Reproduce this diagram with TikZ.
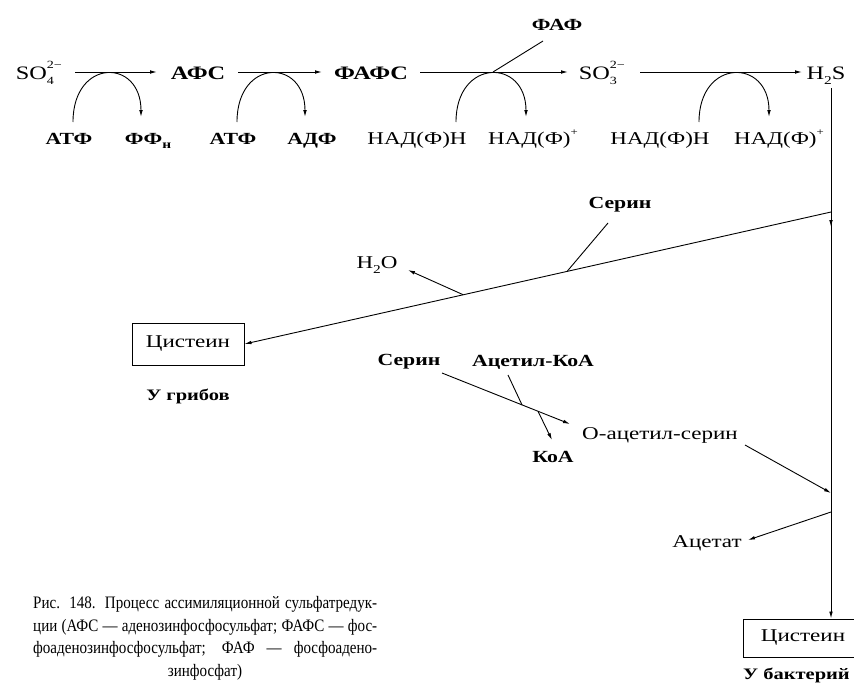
\documentclass[tikz,border=0pt]{standalone}
\usepackage{fontspec}
\setmainfont{Liberation Serif}
\newfontfamily\wide{Liberation Serif}[FakeStretch=1.28]
\newfontfamily\narrowf{Liberation Serif}[FakeStretch=0.86]
\usetikzlibrary{arrows.meta,calc}
\newcommand{\chsc}[2]{\rlap{\raisebox{0.55em}{\fontsize{11}{11}\selectfont #1}}\raisebox{-0.28em}{\fontsize{11}{11}\selectfont #2}}
\newcommand{\lowi}[1]{\raisebox{-0.28em}{\fontsize{12}{12}\selectfont #1}}
\newcommand{\upi}[1]{\raisebox{0.5em}{\fontsize{10}{10}\selectfont #1}}
\begin{document}
\begin{tikzpicture}[x=1pt,y=-1pt,
  arr/.style={-{Latex[length=7pt,width=3.6pt]}},
  ln/.style={line width=0.9pt},
  toprow/.style={inner sep=0pt,text height=16pt,text depth=2pt,font=\fontsize{19}{22}\selectfont\wide},
  lab/.style={inner sep=0pt,text height=14pt,text depth=4pt,font=\fontsize{18}{22}\selectfont\wide},
  txt/.style={inner sep=0pt,font=\fontsize{18}{22}\selectfont\wide},
  bx/.style={draw,line width=1pt,inner sep=0pt,minimum height=42pt,font=\fontsize{18}{22}\selectfont\wide},
  captxt/.style={inner sep=0pt,anchor=base west,font=\fontsize{17.5}{20}\selectfont\narrowf}
]
\useasboundingbox (0,0) rectangle (854,691);
\clip (0,0) rectangle (854,691);
\fill[white] (0,0) rectangle (854,691);

% top row
\node[toprow] (so4) at (41,72) {SO\chsc{2−}{4}\hphantom{4}};
\node[toprow,font=\fontsize{19}{22}\selectfont\wide\bfseries] (afs) at (198,72) {АФС};
\node[toprow,font=\fontsize{19}{22}\selectfont\wide\bfseries] (fafs) at (371,72) {ФАФС};
\node[toprow] (so3) at (604,72) {SO\chsc{2−}{3}\hphantom{3}};
\node[toprow] (h2s) at (826,72) {H\lowi{2}S};
\node[txt,font=\fontsize{17}{20}\selectfont\wide\bfseries] (faf) at (557,25) {ФАФ};

\draw[ln,arr] ([shift={(34,0)}]so4.center) -- ([shift={(-41,0)}]afs.center);
\draw[ln,arr] ([shift={(40,0)}]afs.center) -- ([shift={(-49,0)}]fafs.center);
\draw[ln,arr] ([shift={(49,0)}]fafs.center) -- ([shift={(-36,0)}]so3.center);
\draw[ln,arr] ([shift={(36,0)}]so3.center) -- ([shift={(-24,0)}]h2s.center);
\coordinate (b3) at ([shift={(122,0)}]fafs.center);
\draw[ln] (b3) -- ([shift={(-14,16)}]faf.center);

% cofactor row
\node[lab,font=\fontsize{17}{22}\selectfont\wide\bfseries] (atf1) at (69,139) {АТФ};
\node[lab,font=\fontsize{17}{22}\selectfont\wide\bfseries] (ffn) at (148,139) {ФФ\lowi{н}};
\node[lab,font=\fontsize{17}{22}\selectfont\wide\bfseries] (atf2) at (233,139) {АТФ};
\node[lab,font=\fontsize{17}{22}\selectfont\wide\bfseries] (adf) at (312,139) {АДФ};
\node[lab] (nadh1) at (417,139) {НАД(Ф)Н};
\node[lab] (nadp1) at (533,139) {НАД(Ф)\upi{+}};
\node[lab] (nadh2) at (660,139) {НАД(Ф)Н};
\node[lab] (nadp2) at (779,139) {НАД(Ф)\upi{+}};

\draw[ln,arr] ([shift={(4,-17)}]atf1.center) .. controls +(0,-64) and +(0,-59) .. ([shift={(-7,-22)}]ffn.center);
\draw[ln,arr] ([shift={(4,-17)}]atf2.center) .. controls +(0,-64) and +(0,-59) .. ([shift={(-7,-22)}]adf.center);
\draw[ln,arr] ([shift={(39,-17)}]nadh1.center) .. controls +(0,-64) and +(0,-59) .. ([shift={(-7,-22)}]nadp1.center);
\draw[ln,arr] ([shift={(39,-17)}]nadh2.center) .. controls +(0,-64) and +(0,-59) .. ([shift={(-10,-22)}]nadp2.center);

% boxes and lower labels
\node[bx,minimum width=112pt] (cys1) at (188,344) {Цистеин};
\node[txt,font=\fontsize{16}{20}\selectfont\wide\bfseries] (grib) at (188,396) {У грибов};
\node[bx,minimum width=120pt,minimum height=38pt] (cys2) at (803,638) {Цистеин};
\node[txt,anchor=west,font=\fontsize{16}{20}\selectfont\wide\bfseries] (bakt) at (743,675) {У бактерий};

\node[txt,font=\fontsize{17}{20}\selectfont\wide\bfseries] (ser1) at (620,205) {Серин};
\node[txt] (h2o) at (377,265) {H\lowi{2}O};
\node[txt,font=\fontsize{17}{20}\selectfont\wide\bfseries] (ser2) at (409,362) {Серин};
\node[txt,font=\fontsize{17}{20}\selectfont\wide\bfseries] (acoa) at (533,362) {Ацетил-КоА};
\node[txt,font=\fontsize{17}{20}\selectfont\wide\bfseries] (koa) at (553,457) {КоА};
\node[txt] (oas) at (660,435) {О-ацетил-серин};
\node[txt] (acetat) at (707,543) {Ацетат};

% vertical line
\draw[ln,arr] ([shift={(5,16)}]h2s.center) -- ([shift={(28,0)}]cys2.north);
\coordinate (v1) at ([shift={(5,140)}]h2s.center);
\draw[ln,arr] (v1) -- ++(0,15);

% fungal branch
\draw[ln,arr] (v1) -- (cys1.east);
\coordinate (j1) at ($(v1)!0.45!(cys1.east)$);
\draw[ln] ([shift={(-12,18)}]ser1.center) -- (j1);
\coordinate (j2) at ($(v1)!0.627!(cys1.east)$);
\draw[ln,arr] (j2) -- ([shift={(31,5)}]h2o.center);

% bacterial branch
\coordinate (l1) at ([shift={(33,11)}]ser2.center);
\coordinate (l2) at ([shift={(-90,-11)}]oas.center);
\draw[ln,arr] (l1) -- (l2);
\draw[ln] ([shift={(-25,13)}]acoa.center) -- ($(l1)!0.625!(l2)$);
\draw[ln,arr] ($(l1)!0.75!(l2)$) -- ([shift={(-1,-17)}]koa.center);
\coordinate (v2) at ([shift={(5,421)}]h2s.center);
\draw[ln,arr] ([shift={(85,10)}]oas.center) -- (v2);
\coordinate (v3) at ([shift={(5,440)}]h2s.center);
\draw[ln,arr] (v3) -- ([shift={(41,-3)}]acetat.center);

% caption
\node[captxt] (c1) at (33,608) {\makebox[344pt][s]{Рис. 148. Процесс ассимиляционной сульфатредук-}};
\node[captxt] (c2) at (33,631) {\makebox[344pt][s]{ции (АФС — аденозинфосфосульфат; ФАФС — фос-}};
\node[captxt] (c3) at (33,653) {\makebox[344pt][s]{фоаденозинфосфосульфат; ФАФ — фосфоадено-}};
\node[captxt,anchor=base] (c4) at (205,676) {зинфосфат)};
\end{tikzpicture}
\end{document}
